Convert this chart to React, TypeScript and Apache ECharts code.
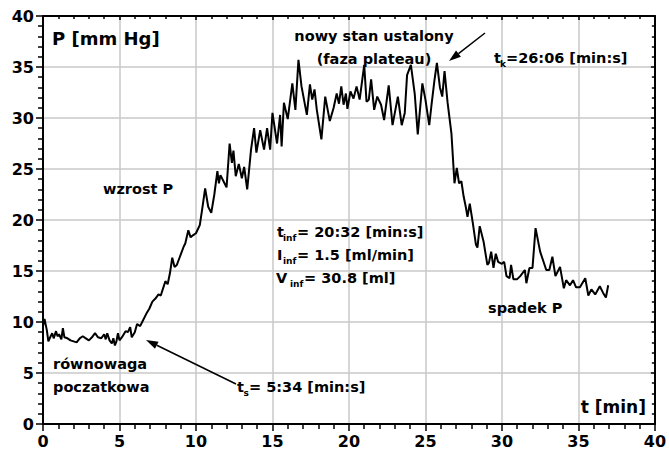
import React, { useEffect, useRef } from "react";
import * as echarts from "echarts";

// time [min]
const tData: number[] = [
  0.0, 0.1, 0.25, 0.35, 0.5, 0.6, 0.7, 0.85, 0.95, 1.05, 1.2, 1.3, 1.4, 1.6, 1.8, 2.0, 2.2, 2.4, 2.6, 2.8,
  3.0, 3.2, 3.4, 3.6, 3.8, 4.0, 4.1, 4.2, 4.35, 4.5, 4.6, 4.7, 4.8, 4.9, 5.0, 5.2, 5.4, 5.55, 5.7, 5.8,
  6.0, 6.15, 6.35, 6.55, 6.75, 6.95, 7.15, 7.35, 7.55, 7.7, 7.85, 8.0, 8.15, 8.3, 8.45, 8.6, 8.75, 8.9, 9.05, 9.2,
  9.3, 9.5, 9.65, 9.8, 10.0, 10.25, 10.4, 10.6, 10.8, 11.0, 11.2, 11.4, 11.5, 11.6, 11.8, 12.0, 12.2, 12.35, 12.45, 12.6,
  12.8, 13.0, 13.15, 13.35, 13.6, 13.8, 13.95, 14.2, 14.45, 14.65, 14.85, 15.0, 15.3, 15.5, 15.6, 15.75, 16.0, 16.3, 16.5, 16.7,
  16.9, 17.25, 17.45, 17.6, 17.75, 17.9, 18.2, 18.45, 18.75, 19.0, 19.2, 19.35, 19.5, 19.65, 19.8, 19.9, 20.1, 20.3, 20.5, 20.7,
  21.0, 21.15, 21.3, 21.45, 21.65, 21.85, 22.1, 22.3, 22.6, 22.85, 23.2, 23.45, 23.65, 23.8, 24.05, 24.3, 24.5, 24.8, 25.0, 25.25,
  25.4, 25.6, 25.75, 25.95, 26.1, 26.25, 26.45, 26.7, 26.9, 27.05, 27.2, 27.35, 27.5, 27.65, 27.75, 27.9, 28.1, 28.3, 28.4, 28.55,
  28.8, 29.05, 29.15, 29.3, 29.45, 29.6, 29.75, 30.0, 30.15, 30.3, 30.5, 30.6, 30.75, 31.0, 31.2, 31.5, 31.6, 31.8, 32.0, 32.2,
  32.5, 32.7, 32.9, 33.1, 33.3, 33.5, 33.8, 34.05, 34.2, 34.45, 34.65, 34.85, 35.1, 35.45, 35.65, 35.85, 36.1, 36.4, 36.6, 36.8,
  36.95,
];

// pressure P [mm Hg]
const pData: number[] = [
  9.6, 10.3, 9.2, 8.1, 8.6, 8.9, 8.4, 9.1, 8.6, 8.8, 8.3, 9.4, 8.5, 8.4, 8.2, 8.1, 8.0, 8.4, 8.6, 8.4,
  8.2, 8.5, 8.9, 8.5, 8.4, 8.8, 8.3, 8.9, 8.2, 7.9, 8.4, 7.7, 8.1, 8.9, 8.2, 8.6, 9.1, 9.0, 9.5, 8.5,
  9.0, 9.8, 9.6, 10.2, 10.8, 11.3, 12.0, 12.3, 12.7, 12.6, 13.3, 14.0, 13.7, 14.8, 16.3, 15.4, 15.6, 16.2, 16.8, 17.4,
  17.7, 19.0, 18.3, 18.5, 18.7, 19.5, 21.0, 23.1, 21.3, 20.7, 22.5, 24.8, 23.6, 24.4, 23.8, 23.2, 27.5, 25.6, 26.8, 24.3,
  25.5, 24.1, 25.2, 23.0, 26.9, 29.0, 26.6, 28.8, 26.9, 29.0, 26.9, 30.5, 27.5, 30.3, 27.2, 31.5, 29.9, 33.4, 30.8, 35.7,
  33.1, 30.3, 33.3, 31.8, 32.8, 30.8, 27.9, 32.1, 29.7, 31.0, 32.4, 31.4, 33.1, 31.3, 32.4, 30.9, 32.6, 31.9, 33.1, 31.8,
  35.2, 31.6, 31.8, 33.8, 30.8, 32.1, 31.3, 29.8, 33.2, 29.3, 32.1, 29.3, 30.5, 34.2, 35.2, 32.4, 28.4, 33.4, 31.8, 29.3,
  31.3, 33.8, 35.4, 33.0, 32.1, 34.6, 31.5, 28.5, 23.6, 25.1, 23.6, 23.8, 22.3, 21.2, 20.3, 21.6, 19.7, 17.6, 17.3, 19.4,
  17.9, 15.6, 15.8, 16.9, 15.3, 16.7, 15.9, 15.7, 15.9, 14.5, 14.3, 15.6, 14.2, 14.2, 14.5, 15.1, 13.8, 15.3, 15.3, 19.2,
  16.9, 16.0, 15.1, 15.1, 16.4, 14.5, 15.4, 13.3, 14.1, 13.6, 14.1, 13.4, 13.4, 14.3, 12.6, 13.2, 12.7, 13.5, 12.9, 12.4,
  13.6,
];

const xTicks = { min: 0, max: 40, step: 5 };
const yTicks = { min: 0, max: 40, step: 5 };

const FONT = "DejaVu Sans";

function txt(text: string, x: number, y: number, size: number, align = "left") {
  return {
    type: "text",
    x,
    y,
    style: {
      text,
      fill: "#000",
      fontFamily: FONT,
      fontWeight: "bold",
      fontSize: size,
      align,
      verticalAlign: "middle",
    },
    z: 100,
  };
}

function arrow(x1: number, y1: number, x2: number, y2: number) {
  const dx = x2 - x1;
  const dy = y2 - y1;
  const len = Math.sqrt(dx * dx + dy * dy);
  const ux = dx / len;
  const uy = dy / len;
  const hl = 12;
  const hw = 4;
  const bx = x2 - hl * ux;
  const by = y2 - hl * uy;
  const nx = -uy * hw;
  const ny = ux * hw;
  return [
    {
      type: "line",
      shape: { x1, y1, x2: bx, y2: by },
      style: { stroke: "#000", lineWidth: 1.5 },
      z: 100,
    },
    {
      type: "polygon",
      shape: {
        points: [
          [x2, y2],
          [bx + nx, by + ny],
          [bx - nx, by - ny],
        ],
      },
      style: { fill: "#000" },
      z: 100,
    },
  ];
}

export default function App() {
  const ref = useRef<HTMLDivElement>(null);

  useEffect(() => {
    if (!ref.current) return;
    const chart = echarts.init(ref.current, undefined, { renderer: "svg" });

    const axisCommon = {
      type: "value",
      axisLine: { show: true, onZero: false, lineStyle: { color: "#000", width: 2 } },
    };

    const sub = 9;
    const option: any = {
      animation: false,
      backgroundColor: "#fff",
      grid: { left: 43, right: 7, top: 16, bottom: 28, containLabel: false },
      xAxis: [
        {
          ...axisCommon,
          position: "bottom",
          min: xTicks.min,
          max: xTicks.max,
          interval: xTicks.step,
          axisTick: { show: true, inside: false, length: 7, lineStyle: { color: "#000", width: 1.5 } },
          minorTick: { show: true, splitNumber: 5, length: 5, lineStyle: { color: "#000", width: 1.5 } },
          axisLabel: { color: "#000", fontFamily: FONT, fontWeight: "bold", fontSize: 16, margin: 9 },
          splitLine: { show: true, lineStyle: { color: "#c8c8c8", width: 1.5 } },
        },
        {
          ...axisCommon,
          position: "top",
          min: xTicks.min,
          max: xTicks.max,
          interval: xTicks.step,
          axisTick: { show: true, inside: true, length: 4, lineStyle: { color: "#000", width: 1.5 } },
          minorTick: { show: true, splitNumber: 5, length: 3, lineStyle: { color: "#000", width: 1.5 } },
          axisLabel: { show: false },
          splitLine: { show: false },
        },
      ],
      yAxis: [
        {
          ...axisCommon,
          position: "left",
          min: yTicks.min,
          max: yTicks.max,
          interval: yTicks.step,
          axisTick: { show: true, inside: false, length: 7, lineStyle: { color: "#000", width: 1.5 } },
          minorTick: { show: true, splitNumber: 5, length: 5, lineStyle: { color: "#000", width: 1.5 } },
          axisLabel: { color: "#000", fontFamily: FONT, fontWeight: "bold", fontSize: 16, margin: 9 },
          splitLine: { show: true, lineStyle: { color: "#c8c8c8", width: 1.5 } },
        },
        {
          ...axisCommon,
          position: "right",
          min: yTicks.min,
          max: yTicks.max,
          interval: yTicks.step,
          axisTick: { show: true, inside: true, length: 4, lineStyle: { color: "#000", width: 1.5 } },
          minorTick: { show: true, splitNumber: 5, length: 3, lineStyle: { color: "#000", width: 1.5 } },
          axisLabel: { show: false },
          splitLine: { show: false },
        },
      ],
      series: [
        {
          type: "line",
          xAxisIndex: 0,
          yAxisIndex: 0,
          data: tData.map((t, i) => [t, pData[i]]),
          showSymbol: false,
          symbol: "none",
          lineStyle: { color: "#000", width: 2 },
          z: 5,
        },
      ],
      graphic: [
        txt("P [mm Hg]", 52, 38, 18),
        txt("t [min]", 646, 407, 17, "right"),
        txt("nowy stan ustalony", 374, 35.5, 14.5, "center"),
        txt("(faza plateau)", 374, 58.5, 14.5, "center"),
        txt("t", 494, 58, 14.5),
        txt("k", 500, 64, sub),
        txt("=26:06 [min:s]", 506, 58, 14.5),
        txt("wzrost P", 103, 188.5, 14.5),
        txt("t", 277, 232, 14.5),
        txt("inf", 283, 238, sub),
        txt("= 20:32 [min:s]", 297, 232, 14.5),
        txt("I", 277, 254.5, 14.5),
        txt("inf", 283, 260.5, sub),
        txt("= 1.5 [ml/min]", 297, 254.5, 14.5),
        txt("V", 276, 278, 14.5),
        txt("inf", 290, 284, sub),
        txt("= 30.8 [ml]", 304, 278, 14.5),
        txt("równowaga", 53, 364, 14.5),
        txt("poczatkowa", 53, 387, 14.5),
        txt("t", 237, 387, 14.5),
        txt("s", 243.5, 393, sub),
        txt("= 5:34 [min:s]", 249, 387, 14.5),
        txt("spadek P", 488, 308, 14.5),
        ...arrow(485, 33, 449, 61),
        ...arrow(236, 384, 146, 340),
      ],
    };

    chart.setOption(option);
    return () => {
      chart.dispose();
    };
  }, []);

  return (
    <div
      ref={ref}
      style={{ position: "fixed", left: 0, top: 0, width: 669, height: 452, background: "#fff" }}
    />
  );
}
